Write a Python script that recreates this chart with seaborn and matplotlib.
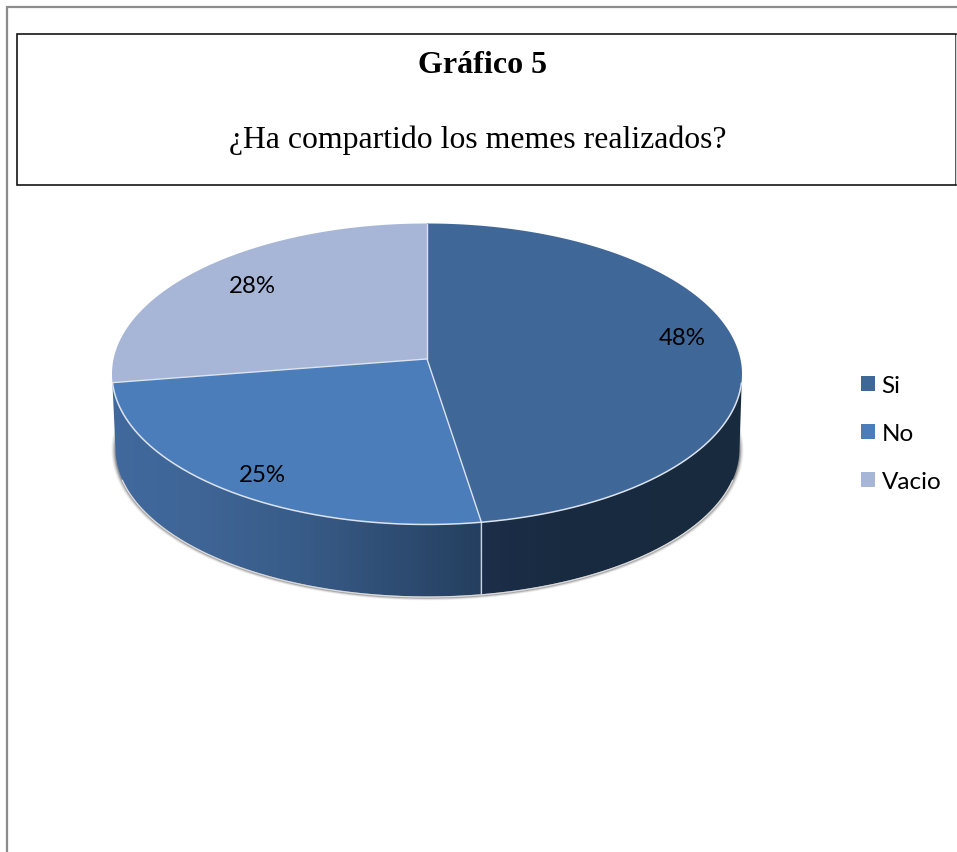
import numpy as np
import matplotlib
matplotlib.use("Agg")
import matplotlib.pyplot as plt
from matplotlib.patches import Patch, Rectangle, Polygon
import seaborn as sns

# data
categories = ["Si", "No", "Vacio"]
counts = [19, 10, 11]
pie_labels = ["48%", "25%", "28%"]
label_xy = [(682, 338), (262, 476), (252, 286)]
title_text = "Gráfico 5"
subtitle_text = "¿Ha compartido los memes realizados?"

sns.set_theme(style="white")
palette = sns.color_palette(["#3F6899", "#4A7DBA", "#A7B6D7"])

W, H = 957, 853
fig = plt.figure(figsize=(W / 100, H / 100), dpi=100, facecolor="white")
ax = fig.add_axes([0, 0, 1, 1])
ax.axis("off")

# Frames
ax.plot([7, 7, W], [H, 7.5, 7.5], color="#8C8C8C", lw=1.6, solid_joinstyle="miter", zorder=1)
ax.add_patch(Rectangle((17, 34.5), W - 17 - 1, 151, fc="white", ec="#151515", lw=1.2, zorder=1))
ax.plot([W - 1, W - 1], [36, 184], color="#D8D8D8", lw=1, zorder=2)

ax.text(482, 65.5, title_text, family="Liberation Serif", weight="bold", fontsize=23,
        ha="center", va="center", color="black", zorder=5)
ax.text(477.5, 140.5, subtitle_text, family="Liberation Serif", fontsize=22.9,
        ha="center", va="center", color="black", zorder=5)

# Perspective pie geometry
CX, CY, RX, RY = 427.0, 375.0, 315.0, 150.5
BCX, BCY, BRX, BRY = 427.5, 450.0, 312.0, 147.5
P = 0.1


def project(theta, cx=CX, cy=CY, rx=RX, ry=RY):
    """Clockwise-from-top angle on the round pie to picture coordinates."""
    x, y = np.sin(theta), np.cos(theta)
    d = 1 + P * y
    return cx + rx * x * np.sqrt(1 - P ** 2) / d, cy - ry * (y + P) / d


fractions = np.array(counts) / np.sum(counts)
edges = np.concatenate([[0], np.cumsum(fractions)]) * 2 * np.pi

# Soft shadow below the wall
phi_s = np.linspace(0, 2 * np.pi, 400)
for grow, alpha in [(4, 0.08), (3, 0.12), (2, 0.20), (1, 0.32)]:
    ax.fill(BCX + (BRX + grow * 1.0) * np.cos(phi_s),
            BCY + 1 + (BRY + grow * 0.7) * np.sin(phi_s),
            color="#454545", alpha=alpha, lw=0, zorder=2)

# Side wall: one horizontal gradient clipped to the wall outline
stops_x = [112, 200, 300, 400, 481, 483, 560, 742]
stops_rgb = np.array([matplotlib.colors.to_rgb(c) for c in
                      ["#41699D", "#3F6596", "#385C88", "#2E4C72", "#243F5F",
                       "#1C2E49", "#192B40", "#182A3E"]])
grad_x = np.arange(105, 750)
grad = np.stack([np.interp(grad_x, stops_x, stops_rgb[:, i]) for i in range(3)], axis=-1)[None, :, :]

phi = np.linspace(np.pi, 0, 361)
tx, ty = CX + RX * np.cos(phi), CY + RY * np.sin(phi)
bx, by = BCX + BRX * np.cos(phi), BCY + BRY * np.sin(phi)
wall = Polygon(np.c_[np.r_[tx, bx[::-1]], np.r_[ty, by[::-1]]], closed=True,
               transform=ax.transData, fc="none", ec="none")
ax.add_patch(wall)
img = ax.imshow(grad, extent=(105, 750, 610, 360), aspect="auto", zorder=3, interpolation="bilinear")
img.set_clip_path(wall)
ax.set_xlim(0, W)
ax.set_ylim(H, 0)
lower_edge = np.sin(phi) > 0.2
ax.plot(np.where(lower_edge, bx, np.nan), by + 0.6, color="#DADADA", lw=1, zorder=3.2)

# Top face
for k, color in enumerate(palette):
    th = np.linspace(edges[k], edges[k + 1], 240)
    px, py = project(th)
    ax.fill(np.r_[CX, px], np.r_[CY - RY * P, py], facecolor=color, edgecolor="none", zorder=4)

# Light slice borders and rim
rim_t = np.linspace(0, 2 * np.pi, 720)
rx_, ry_ = project(rim_t)
lower = ry_ > CY + 8
ax.plot(np.where(lower, rx_, np.nan), ry_, color="#DCE3EE", lw=1.1, zorder=4.5)
for e in edges[:-1]:
    ex, ey = project(e)
    ax.plot([CX, ex], [CY - RY * P, ey], color="#DCE3EE", lw=1.0, zorder=4.6)
sx, sy = project(edges[1])
bsx, bsy = project(edges[1], BCX, BCY, BRX, BRY)
ax.plot([sx, bsx], [sy, bsy], color="#C9D2DE", lw=1.0, zorder=3.5)

# Labels
for txt, (lx, ly) in zip(pie_labels, label_xy):
    ax.text(lx, ly, txt, family="Lato", fontsize=17.3, ha="center", va="center",
            color="black", zorder=6)

# Legend
handles = [Patch(facecolor=c, edgecolor="none", label=n) for c, n in zip(palette, categories)]
leg = ax.legend(handles=handles, loc="upper left", bbox_to_anchor=(861 / W, 1 - 376 / H),
                bbox_transform=fig.transFigure, frameon=False, borderpad=0, borderaxespad=0,
                handlelength=0.58, handleheight=0.58, handletextpad=0.27, labelspacing=1.11,
                prop={"family": "Lato", "size": 17.5}, labelcolor="black")
leg.set_zorder(6)

fig.savefig("out.png", dpi=100, facecolor="white")
